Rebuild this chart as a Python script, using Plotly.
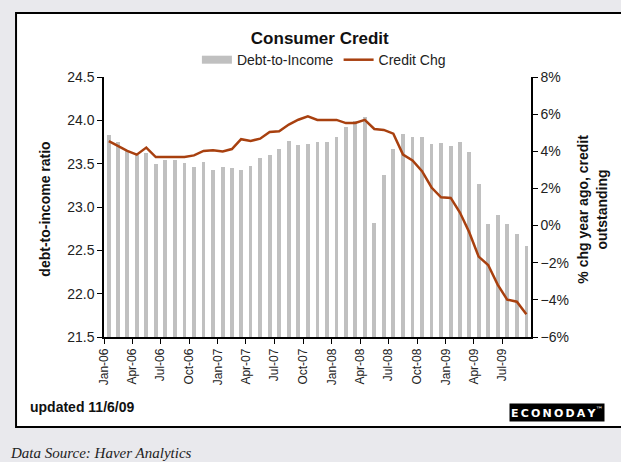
import pandas as pd
import plotly.graph_objects as go

# ---- data (monthly Jan-06 .. Sep-09) ----
debt_to_income = [
    23.83, 23.75, 23.65, 23.60, 23.62, 23.50, 23.54, 23.54, 23.51, 23.46, 23.52, 23.43,
    23.46, 23.45, 23.43, 23.47, 23.56, 23.60, 23.67, 23.76, 23.72, 23.73, 23.75, 23.75,
    23.81, 23.92, 23.99, 24.04, 22.82, 23.37, 23.67, 23.84, 23.81, 23.81, 23.73, 23.74,
    23.70, 23.75, 23.63, 23.26, 22.80, 22.91, 22.80, 22.69, 22.55,
]
credit_chg = [
    4.55, 4.30, 4.02, 3.82, 4.20, 3.69, 3.69, 3.69, 3.69, 3.78, 4.02, 4.05,
    3.99, 4.12, 4.65, 4.56, 4.68, 5.04, 5.08, 5.44, 5.70, 5.88, 5.69, 5.69,
    5.69, 5.52, 5.52, 5.69, 5.20, 5.15, 4.95, 3.82, 3.51, 2.93, 2.05, 1.52,
    1.49, 0.70, -0.35, -1.67, -2.12, -3.18, -3.99, -4.10, -4.78,
]
months = pd.date_range("2006-01-01", periods=len(debt_to_income), freq="MS")
series_names = ["Debt-to-Income", "Credit Chg"]

BAR_COLOR = "#c0c0c0"
LINE_COLOR = "#a8400f"
FONT = "Liberation Sans"

fig = go.Figure()

fig.add_trace(go.Bar(
    x=months, y=debt_to_income, name=series_names[0],
    xperiod="M1", xperiodalignment="middle",
    marker=dict(color=BAR_COLOR, line=dict(width=0)),
    width=12 * 86400000, showlegend=False, legendgroup="d",
    yaxis="y",
))
# legend stand-in for the bar series (wide gray swatch as in the reference)
fig.add_trace(go.Scatter(
    x=[None], y=[None], mode="lines", name=series_names[0], legendgroup="d",
    line=dict(color=BAR_COLOR, width=8), yaxis="y",
))
fig.add_trace(go.Scatter(
    x=months, y=credit_chg, name=series_names[1], mode="lines",
    xperiod="M1", xperiodalignment="middle",
    line=dict(color=LINE_COLOR, width=2.5), yaxis="y2",
))

tick_font = dict(family=FONT, size=14, color="#222")

fig.update_layout(
    width=621, height=462,
    margin=dict(l=104, r=90, t=77, b=125),
    paper_bgcolor="#e9e9ed",
    plot_bgcolor="rgba(0,0,0,0)",
    font=dict(family=FONT, color="#222"),
    title=dict(text="<b>Consumer Credit</b>", x=0.515, xanchor="center",
               y=1 - 38 / 462, yanchor="middle",
               font=dict(family=FONT, size=17, color="#111")),
    showlegend=True,
    legend=dict(orientation="h", x=0.515, xanchor="center", y=1.065, yanchor="middle",
                font=dict(family=FONT, size=14, color="#222"),
                bgcolor="rgba(0,0,0,0)", itemwidth=30, traceorder="normal"),
    bargap=0,
    xaxis=dict(
        type="date",
        range=["2006-01-01", "2009-09-30T20:00"],
        tick0="2006-01-01", dtick="M3", tickformat="%b-%y",
        tickangle=-90, tickfont=dict(family=FONT, size=12, color="#222"),
        ticks="outside", ticklen=5, tickcolor="black", tickwidth=1.2,
        showline=True, linecolor="black", linewidth=1.5,
        showgrid=False, zeroline=False,
    ),
    yaxis=dict(
        range=[21.5, 24.5], dtick=0.5, tick0=21.5, tickformat=".1f",
        tickfont=tick_font, ticks="outside", ticklen=5, tickcolor="black", tickwidth=1.2,
        showline=True, linecolor="black", linewidth=1.5,
        showgrid=False, zeroline=False,
    ),
    yaxis2=dict(
        overlaying="y", side="right",
        range=[-6, 8], dtick=2, tick0=-6, ticksuffix="%",
        tickfont=tick_font, ticks="outside", ticklen=5, tickcolor="black", tickwidth=1.2,
        showline=True, linecolor="black", linewidth=1.5,
        showgrid=False, zeroline=False,
    ),
)

# white chart panel with black border (right edge runs off the picture)
fig.add_shape(type="rect", xref="paper", yref="paper",
              x0=-0.206, x1=1.6, y0=-0.346, y1=1.246,
              fillcolor="white", line=dict(color="black", width=2), layer="below")

# axis titles
fig.add_annotation(text="<b>debt-to-income ratio</b>", xref="paper", yref="paper",
                   x=-0.138, xanchor="center", y=0.49, yanchor="middle",
                   textangle=-90, showarrow=False,
                   font=dict(family=FONT, size=14, color="#111"))
fig.add_annotation(text="<b>% chg year ago, credit</b>", xref="paper", yref="paper",
                   x=1.122, xanchor="center", y=0.49, yanchor="middle",
                   textangle=-90, showarrow=False,
                   font=dict(family=FONT, size=14, color="#111"))
fig.add_annotation(text="<b>outstanding</b>", xref="paper", yref="paper",
                   x=1.166, xanchor="center", y=0.49, yanchor="middle",
                   textangle=-90, showarrow=False,
                   font=dict(family=FONT, size=14, color="#111"))

# footer texts
fig.add_annotation(text="<b>updated 11/6/09</b>", xref="paper", yref="paper",
                   x=-0.178, xanchor="left", y=-0.27, yanchor="middle", showarrow=False,
                   font=dict(family=FONT, size=14, color="#111"))
fig.add_annotation(text="<b>E\u2009C\u2009O\u2009N\u2009O\u2009D\u2009A\u2009Y</b><sup>™</sup>",
                   xref="paper", yref="paper",
                   x=1.173, xanchor="right", y=-0.29, yanchor="middle", showarrow=False,
                   bgcolor="black", borderpad=1,
                   font=dict(family="DejaVu Sans", size=11, color="white"))
fig.add_annotation(text="<i>Data Source: Haver Analytics</i>", xref="paper", yref="paper",
                   x=-0.225, xanchor="left", y=-0.446, yanchor="middle", showarrow=False,
                   font=dict(family="Liberation Serif", size=15, color="#222"))

fig.write_html(
    "out.html",
    config={"displayModeBar": False},
    post_script=("document.body.style.margin='0';document.body.style.padding='0';"
                 "document.body.style.overflow='hidden';"
                 "document.documentElement.style.overflow='hidden';"),
)
